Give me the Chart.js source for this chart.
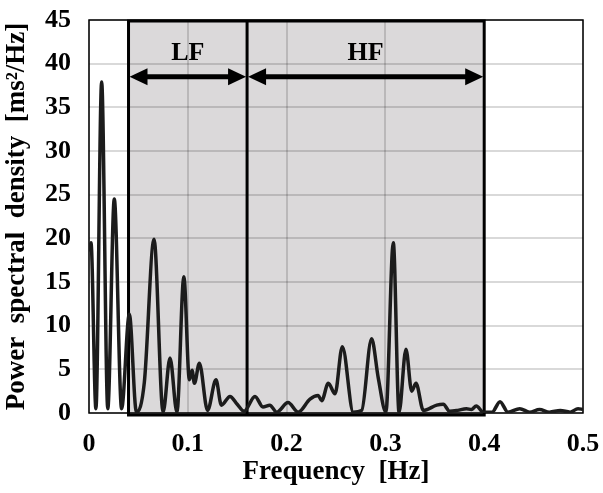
<!DOCTYPE html>
<html>
<head>
<meta charset="utf-8">
<script src="https://cdn.jsdelivr.net/npm/chart.js@4"></script>
<style>
  html, body { margin: 0; padding: 0; background: #fff; }
  #wrap { width: 603px; height: 493px; }
</style>
</head>
<body>
<div id="wrap"><canvas id="psdChart"></canvas></div>
<script>
// HRV power spectrum
const freqHz = [
  0.000, 0.002, 0.007, 0.0128, 0.019, 0.0256, 0.033, 0.0408, 0.048, 0.056,
  0.0658, 0.075, 0.082, 0.089, 0.096, 0.1016, 0.1043, 0.1067, 0.1117, 0.120,
  0.1285, 0.134, 0.1427, 0.150, 0.157, 0.168, 0.176, 0.183, 0.190, 0.2015,
  0.2116, 0.2237, 0.232, 0.2355, 0.2422, 0.249, 0.2564, 0.2675, 0.276, 0.286,
  0.2928, 0.3005, 0.308, 0.3138, 0.3208, 0.3266, 0.331, 0.3384, 0.352, 0.3586,
  0.365, 0.373, 0.382, 0.387, 0.392, 0.399, 0.408, 0.416, 0.424, 0.436,
  0.446, 0.456, 0.466, 0.477, 0.487, 0.495, 0.500
];
const psdValues = [
  18.5, 19.5, 0.5, 37.9, 0.5, 24.5, 0.5, 11.3, 0.1, 3.5,
  19.9, 0.1, 6.3, 0.1, 15.6, 3.8, 4.9, 3.4, 5.7, 0.3,
  3.8, 0.9, 1.9, 1.0, 0.2, 1.9, 0.7, 0.9, 0.1, 1.2,
  0.1, 1.6, 2.0, 1.4, 3.4, 2.2, 7.6, 0.1, 0.3, 8.5,
  4.0, 0.1, 19.5, 0.1, 7.3, 2.5, 3.4, 0.3, 0.9, 1.0,
  0.2, 0.3, 0.5, 0.4, 0.8, 0.1, 0.1, 1.3, 0.1, 0.5,
  0.1, 0.4, 0.1, 0.3, 0.1, 0.5, 0.4
];
const bandEdges = [0.04, 0.16, 0.4];
const bandNames = ['LF', 'HF'];

const serif = "'Liberation Serif', 'Times New Roman', serif";

function drawArrow(ctx, x1, x2, y) {
  const head = 18, half = 8.5;
  ctx.save();
  ctx.strokeStyle = '#000';
  ctx.fillStyle = '#000';
  ctx.lineWidth = 5;
  ctx.beginPath();
  ctx.moveTo(x1 + head - 2, y);
  ctx.lineTo(x2 - head + 2, y);
  ctx.stroke();
  ctx.beginPath();
  ctx.moveTo(x1, y);
  ctx.lineTo(x1 + head, y - half);
  ctx.lineTo(x1 + head, y + half);
  ctx.closePath();
  ctx.fill();
  ctx.beginPath();
  ctx.moveTo(x2, y);
  ctx.lineTo(x2 - head, y - half);
  ctx.lineTo(x2 - head, y + half);
  ctx.closePath();
  ctx.fill();
  ctx.restore();
}

// shaded LF/HF bands, their outlines, arrows and names
const bandPlugin = {
  id: 'bands',
  beforeDraw(chart) {
    const { ctx, chartArea: a, scales: { x } } = chart;
    const x0 = x.getPixelForValue(bandEdges[0]);
    const x1 = x.getPixelForValue(bandEdges[bandEdges.length - 1]);
    ctx.save();
    ctx.fillStyle = '#dbd9da';
    ctx.fillRect(x0, a.top, x1 - x0, a.bottom - a.top);
    ctx.restore();
  },
  beforeDatasetsDraw(chart) {
    const { ctx, chartArea: a, scales: { x, y } } = chart;
    ctx.save();
    // plot frame
    ctx.strokeStyle = '#000';
    ctx.lineWidth = 1.5;
    ctx.strokeRect(a.left, a.top, a.right - a.left, a.bottom - a.top);
    // band outlines
    ctx.lineWidth = 3;
    const xs = bandEdges.map(v => x.getPixelForValue(v));
    ctx.strokeRect(xs[0], a.top + 1, xs[xs.length - 1] - xs[0], a.bottom - a.top + 1);
    ctx.beginPath();
    for (let i = 1; i < xs.length - 1; i++) {
      ctx.moveTo(xs[i], a.top);
      ctx.lineTo(xs[i], a.bottom + 1);
    }
    ctx.stroke();
    // arrows and labels
    const arrowY = y.getPixelForValue(38.5);
    const labelY = y.getPixelForValue(41.2);
    ctx.font = 'bold 26px ' + serif;
    ctx.fillStyle = '#000';
    ctx.textAlign = 'center';
    ctx.textBaseline = 'middle';
    for (let i = 0; i < bandNames.length; i++) {
      drawArrow(ctx, xs[i] + 1, xs[i + 1] - 1, arrowY);
      ctx.fillText(bandNames[i], (xs[i] + xs[i + 1]) / 2, labelY);
    }
    ctx.restore();
  }
};

// fixed axis boxes; label overhang must not shrink the plot area
function fixBox(size) {
  return s => {
    if (s.isHorizontal()) s.height = size; else s.width = size;
    s.paddingTop = s.paddingBottom = s.paddingLeft = s.paddingRight = 0;
  };
}

const ctx = document.getElementById('psdChart').getContext('2d');
new Chart(ctx, {
  type: 'line',
  data: {
    datasets: [{
      data: freqHz.map((f, i) => ({ x: f, y: psdValues[i] })),
      borderColor: '#1c1c1c',
      borderWidth: 3.5,
      pointRadius: 0,
      cubicInterpolationMode: 'monotone',
      fill: false
    }]
  },
  options: {
    responsive: true,
    maintainAspectRatio: false,
    animation: false,
    layout: { padding: { top: 20, right: 20, left: 0, bottom: 0 } },
    plugins: {
      legend: { display: false },
      tooltip: { enabled: false }
    },
    scales: {
      x: {
        type: 'linear',
        min: 0,
        max: 0.5,
        afterFit: fixBox(80),
        border: { display: false },
        grid: { color: 'rgba(0,0,0,0.15)', lineWidth: 2, drawTicks: false },
        ticks: {
          stepSize: 0.1,
          padding: 16,
          color: '#000',
          font: { family: serif, size: 26, weight: 'bold' }
        },
        title: {
          display: true,
          text: 'Frequency  [Hz]',
          color: '#000',
          padding: { top: 0, bottom: 5 },
          font: { family: serif, size: 27, weight: 'bold' }
        }
      },
      y: {
        min: 0,
        max: 45,
        afterFit: fixBox(89),
        border: { display: false },
        grid: { color: 'rgba(0,0,0,0.15)', lineWidth: 2, drawTicks: false },
        ticks: {
          stepSize: 5,
          padding: 18,
          color: '#000',
          font: { family: serif, size: 26, weight: 'bold' }
        },
        title: {
          display: true,
          text: 'Power  spectral  density  [ms²/Hz]',
          color: '#000',
          padding: { top: 1, bottom: 0 },
          font: { family: serif, size: 27, weight: 'bold' }
        }
      }
    }
  },
  plugins: [bandPlugin]
});
</script>
</body>
</html>
